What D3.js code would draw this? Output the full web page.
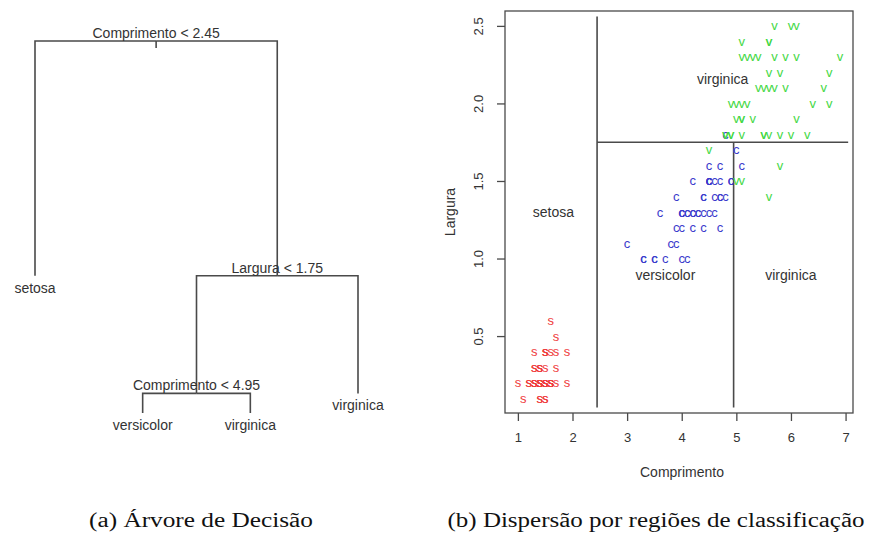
<!DOCTYPE html>
<html lang="pt">
<head>
<meta charset="UTF-8">
<title>Árvore de decisão e dispersão - iris</title>
<script src="https://d3js.org/d3.v7.min.js"></script>
<style>
  body { margin: 0; background: #fff; }
  svg { font-family: "Liberation Sans", Arial, sans-serif; }
</style>
</head>
<body>
<script>
// iris: comprimento e largura da pétala, por espécie
const setosaLen = [1.4,1.4,1.3,1.5,1.4,1.7,1.4,1.5,1.4,1.5,1.5,1.6,1.4,1.1,1.2,1.5,1.3,1.4,1.7,1.5,1.7,1.5,1.0,1.7,1.9,1.6,1.6,1.5,1.4,1.6,1.6,1.5,1.5,1.4,1.5,1.2,1.3,1.4,1.3,1.5,1.3,1.3,1.3,1.6,1.9,1.4,1.6,1.4,1.5,1.4]
const setosaWid = [0.2,0.2,0.2,0.2,0.2,0.4,0.3,0.2,0.2,0.1,0.2,0.2,0.1,0.1,0.2,0.4,0.4,0.3,0.3,0.3,0.2,0.4,0.2,0.5,0.2,0.2,0.4,0.2,0.2,0.2,0.2,0.4,0.1,0.2,0.2,0.2,0.2,0.1,0.2,0.2,0.3,0.3,0.2,0.6,0.4,0.3,0.2,0.2,0.2,0.2]
const versiLen = [4.7,4.5,4.9,4.0,4.6,4.5,4.7,3.3,4.6,3.9,3.5,4.2,4.0,4.7,3.6,4.4,4.5,4.1,4.5,3.9,4.8,4.0,4.9,4.7,4.3,4.4,4.8,5.0,4.5,3.5,3.8,3.7,3.9,5.1,4.5,4.5,4.7,4.4,4.1,4.0,4.4,4.6,4.0,3.3,4.2,4.2,4.2,4.3,3.0,4.1]
const versiWid = [1.4,1.5,1.5,1.3,1.5,1.3,1.6,1.0,1.3,1.4,1.0,1.5,1.0,1.4,1.3,1.4,1.5,1.0,1.5,1.1,1.8,1.3,1.5,1.2,1.3,1.4,1.4,1.7,1.5,1.0,1.1,1.0,1.2,1.6,1.5,1.6,1.5,1.3,1.3,1.3,1.2,1.4,1.2,1.0,1.3,1.2,1.3,1.3,1.1,1.3]
const virgLen = [6.0,5.1,5.9,5.6,5.8,6.6,4.5,6.3,5.8,6.1,5.1,5.3,5.5,5.0,5.1,5.3,5.5,6.7,6.9,5.0,5.7,4.9,6.7,4.9,5.7,6.0,4.8,4.9,5.6,5.8,6.1,6.4,5.6,5.1,5.6,6.1,5.6,5.5,4.8,5.4,5.6,5.1,5.1,5.9,5.7,5.2,5.0,5.2,5.4,5.1]
const virgWid = [2.5,1.9,2.1,1.8,2.2,2.1,1.7,1.8,1.8,2.5,2.0,1.9,2.1,2.0,2.4,2.3,1.8,2.2,2.3,1.5,2.3,2.0,2.0,1.8,2.1,1.8,1.8,1.8,2.1,1.6,1.9,2.0,2.2,1.5,1.4,2.3,2.4,1.8,1.8,2.1,2.4,2.3,1.9,2.3,2.5,2.3,1.9,2.0,2.3,1.8]

const speciesLetters = ['s', 'c', 'v']
const speciesColors = ['#ef3b3b', '#3b3bcc', '#45d845']

// árvore (numeração de nós do R: filhos de n são 2n e 2n+1)
const treeNodes = [1, 2, 3, 6, 7, 12, 13]
const treeLabels = ['Comprimento < 2.45', 'setosa', 'Largura < 1.75', 'Comprimento < 4.95', 'virginica', 'versicolor', 'virginica']
const treeDev = [329.58, 0, 138.63, 33.32, 9.635, 9.721, 7.638]

// cortes da partição
const splitLen1 = 2.45
const splitWid = 1.75
const splitLen2 = 4.95
const regionLabels = ['setosa', 'virginica', 'versicolor', 'virginica']

const xTicks = [1, 2, 3, 4, 5, 6, 7]
const yTicks = [0.5, 1.0, 1.5, 2.0, 2.5]
const captions = ['(a) Árvore de Decisão', '(b) Dispersão por regiões de classificação']

const width = 873
const height = 534
const ink = '#333'
const lineCol = '#4a4a4a'

const svg = d3.select('body').append('svg')
  .attr('width', width)
  .attr('height', height)

// ---------- (a) árvore ----------
const byId = new Map(treeNodes.map((id, i) => [id, { id, label: treeLabels[i], dev: treeDev[i] }]))
const kids = id => [byId.get(2 * id), byId.get(2 * id + 1)].filter(Boolean)

// y proporcional ao desvio (como plot.tree)
byId.get(1).y = byId.get(1).dev
function setY(n) {
  const [a, b] = kids(n.id)
  if (!a) return
  a.y = n.y - n.dev + a.dev + b.dev
  b.y = n.y - n.dev + b.dev + a.dev
  setY(a); setY(b)
}
setY(byId.get(1))

let rank = 0
function setX(n) {
  const k = kids(n.id)
  if (!k.length) { n.x = ++rank; return }
  k.forEach(setX)
  n.x = d3.mean(k, c => c.x)
}
setX(byId.get(1))

const nodes = [...byId.values()]
const xT = d3.scaleLinear().domain([1, rank]).range([35, 358])
const yT = d3.scaleLinear().domain([d3.max(nodes, n => n.y), d3.min(nodes, n => n.y)]).range([41, 413])

const gt = svg.append('g')

gt.selectAll('path.branch')
  .data(nodes.filter(n => n.id > 1))
  .join('path')
  .attr('class', 'branch')
  .attr('fill', 'none')
  .attr('stroke', lineCol)
  .attr('stroke-width', 1.6)
  .attr('d', n => {
    const p = byId.get(Math.floor(n.id / 2))
    return `M${xT(p.x)},${yT(p.y)}H${xT(n.x)}V${yT(n.y)}`
  })

const root = byId.get(1)
gt.append('line')
  .attr('x1', xT(root.x)).attr('x2', xT(root.x))
  .attr('y1', yT(root.y)).attr('y2', yT(root.y) + 7)
  .attr('stroke', lineCol).attr('stroke-width', 1.6)

gt.selectAll('text.node')
  .data(nodes)
  .join('text')
  .attr('class', 'node')
  .attr('x', n => xT(n.x))
  .attr('y', n => kids(n.id).length ? yT(n.y) - 3 : yT(n.y) + 12)
  .attr('dominant-baseline', n => kids(n.id).length ? 'auto' : 'central')
  .attr('text-anchor', 'middle')
  .attr('font-size', 14)
  .attr('fill', ink)
  .text(n => n.label)

// ---------- (b) dispersão ----------
const points = [
  ...setosaLen.map((v, i) => ({ x: v, y: setosaWid[i], s: 0 })),
  ...versiLen.map((v, i) => ({ x: v, y: versiWid[i], s: 1 })),
  ...virgLen.map((v, i) => ({ x: v, y: virgWid[i], s: 2 }))
]

// faixa dos dados ampliada 4% (R) e 2.5% (partition.tree)
const ext = (vals, f) => {
  const [a, b] = d3.extent(vals)
  return [a - f * (b - a), b + f * (b - a)]
}
const xDom = ext(points.map(p => p.x), 0.04)
const yDom = ext(points.map(p => p.y), 0.04)
const rx = ext(points.map(p => p.x), 0.025)
const ry = ext(points.map(p => p.y), 0.025)

const x = d3.scaleLinear().domain(xDom).range([505, 853])
const y = d3.scaleLinear().domain(yDom).range([413, 11])

const gs = svg.append('g')

gs.append('rect')
  .attr('x', x.range()[0]).attr('y', y.range()[1])
  .attr('width', x.range()[1] - x.range()[0])
  .attr('height', y.range()[0] - y.range()[1])
  .attr('fill', 'none')
  .attr('stroke', lineCol)
  .attr('stroke-width', 1.3)

const xAxis = gs.append('g')
  .attr('transform', `translate(0,${y.range()[0]})`)
  .call(d3.axisBottom(x).tickValues(xTicks).tickFormat(d3.format('d')).tickSize(8).tickPadding(12))
const yAxis = gs.append('g')
  .attr('transform', `translate(${x.range()[0]},0)`)
  .call(d3.axisLeft(y).tickValues(yTicks).tickFormat(d3.format('.1f')).tickSize(8).tickPadding(9))

for (const ax of [xAxis, yAxis]) {
  ax.select('.domain').remove()
  ax.selectAll('line').attr('stroke', lineCol).attr('stroke-width', 1.3)
  ax.selectAll('text').attr('font-size', 13).attr('fill', ink)
    .attr('font-family', null)
}
yAxis.selectAll('text')
  .attr('text-anchor', 'middle')
  .attr('transform', 'rotate(-90) translate(0,-12)')
  .attr('x', 0).attr('dy', 0)
  .attr('y', -10)

gs.append('text')
  .attr('x', (x.range()[0] + x.range()[1]) / 2 + 3)
  .attr('y', 477)
  .attr('text-anchor', 'middle')
  .attr('font-size', 14)
  .attr('fill', ink)
  .text('Comprimento')

gs.append('text')
  .attr('transform', `translate(455,${(y.range()[0] + y.range()[1]) / 2}) rotate(-90)`)
  .attr('text-anchor', 'middle')
  .attr('font-size', 14)
  .attr('fill', ink)
  .text('Largura')

// linhas da partição
const cuts = [
  [splitLen1, ry[0], splitLen1, ry[1]],
  [splitLen1, splitWid, rx[1], splitWid],
  [splitLen2, ry[0], splitLen2, splitWid]
]
gs.selectAll('line.cut')
  .data(cuts)
  .join('line')
  .attr('class', 'cut')
  .attr('x1', d => x(d[0])).attr('y1', d => y(d[1]))
  .attr('x2', d => x(d[2])).attr('y2', d => y(d[3]))
  .attr('stroke', lineCol)
  .attr('stroke-width', 1.6)

// rótulos no centro de cada região
const regions = [
  [rx[0], splitLen1, ry[0], ry[1]],
  [splitLen1, rx[1], splitWid, ry[1]],
  [splitLen1, splitLen2, ry[0], splitWid],
  [splitLen2, rx[1], ry[0], splitWid]
]
gs.selectAll('text.region')
  .data(regions)
  .join('text')
  .attr('class', 'region')
  .attr('x', d => x((d[0] + d[1]) / 2))
  .attr('y', d => y((d[2] + d[3]) / 2))
  .attr('text-anchor', 'middle')
  .attr('dominant-baseline', 'central')
  .attr('font-size', 14)
  .attr('fill', ink)
  .text((d, i) => regionLabels[i])

gs.selectAll('text.pt')
  .data(points)
  .join('text')
  .attr('class', 'pt')
  .attr('x', d => x(d.x))
  .attr('y', d => y(d.y))
  .attr('text-anchor', 'middle')
  .attr('dominant-baseline', 'central')
  .attr('font-size', 13)
  .attr('fill', d => speciesColors[d.s])
  .text(d => speciesLetters[d.s])

// ---------- legendas ----------
svg.selectAll('text.cap')
  .data(captions)
  .join('text')
  .attr('class', 'cap')
  .attr('x', (d, i) => [201, 656][i])
  .attr('y', 527)
  .attr('text-anchor', 'middle')
  .style('font-family', '"Liberation Serif", "Times New Roman", serif')
  .attr('font-size', 20)
  .attr('textLength', (d, i) => [224, 417][i])
  .attr('lengthAdjust', 'spacingAndGlyphs')
  .attr('fill', '#111')
  .text(d => d)
</script>
</body>
</html>
